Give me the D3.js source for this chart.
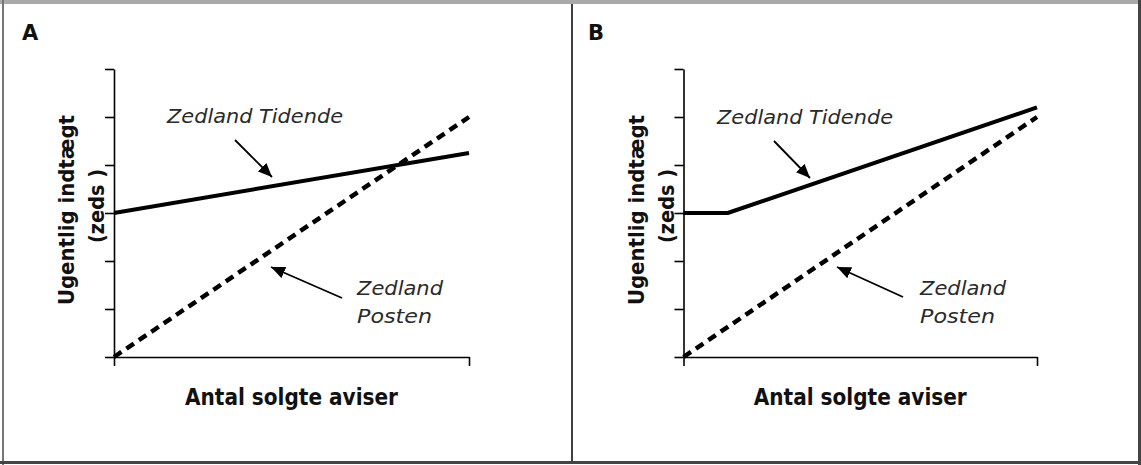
<!DOCTYPE html>
<html>
<head>
<meta charset="utf-8">
<script src="https://cdn.jsdelivr.net/npm/d3@7"></script>
<style>
  body { margin: 0; background: #fff; }
  svg { display: block; }
  .axis path, .axis line { stroke: #000; stroke-width: 1.6; }
  .bold { font-family: "DejaVu Sans", sans-serif; font-weight: bold; fill: #111; }
  .note { font-family: "DejaVu Sans", sans-serif; font-style: italic; fill: #2a2a2a; }
</style>
</head>
<body>
<script>
// y ticks (income, no labels) and x domain (papers sold)
const yTicks = [0, 1, 2, 3, 4, 5, 6];
const xTicks = [0, 10];
const panelNames = ["A", "B"];

// Zedland Tidende / Zedland Posten, panel A and B
const tidendeA = [{x: 0, y: 3}, {x: 10, y: 4.25}];
const postenA = [{x: 0, y: 0}, {x: 10, y: 5}];
const tidendeB = [{x: 0, y: 3}, {x: 1.25, y: 3}, {x: 10, y: 5.2}];
const postenB = [{x: 0, y: 0}, {x: 10, y: 5}];

const W = 1141, H = 465;
const svg = d3.select("body").append("svg").attr("width", W).attr("height", H);

// frame
svg.append("rect").attr("x", 0).attr("y", 0).attr("width", W).attr("height", H).attr("fill", "#fff");
svg.append("line").attr("x1", 0).attr("x2", W).attr("y1", 2).attr("y2", 2).attr("stroke", "#aaa").attr("stroke-width", 4);
svg.append("line").attr("x1", 3).attr("x2", 3).attr("y1", 0).attr("y2", H).attr("stroke", "#777").attr("stroke-width", 2);
svg.append("line").attr("x1", 0).attr("x2", W).attr("y1", 462.5).attr("y2", 462.5).attr("stroke", "#444").attr("stroke-width", 3);
svg.append("line").attr("x1", 1139.5).attr("x2", 1139.5).attr("y1", 0).attr("y2", H).attr("stroke", "#444").attr("stroke-width", 3);
svg.append("line").attr("x1", 572).attr("x2", 572).attr("y1", 4).attr("y2", 461).attr("stroke", "#000").attr("stroke-width", 1.5);

const panels = [
  {name: panelNames[0], left: 114, right: 469, tidende: tidendeA, posten: postenA,
   letter: [22, 40], tid: [167, 123], tidArrow: [[235, 140], [272, 177]],
   pos: [357, 295], posArrow: [[342, 298], [271, 267]]},
  {name: panelNames[1], left: 683.5, right: 1037, tidende: tidendeB, posten: postenB,
   letter: [588, 40], tid: [717, 124], tidArrow: [[774, 141], [810, 178]],
   pos: [920, 295], posArrow: [[903, 297], [837, 267]]}
];

const y = d3.scaleLinear().domain([0, 6]).range([357, 69]);

svg.append("defs").append("marker")
  .attr("id", "head").attr("viewBox", "0 0 14 12").attr("refX", 14).attr("refY", 6)
  .attr("markerWidth", 14).attr("markerHeight", 12).attr("markerUnits", "userSpaceOnUse")
  .attr("orient", "auto")
  .append("path").attr("d", "M0,0L14,6L0,12Z").attr("fill", "#000");

panels.forEach(p => {
  const x = d3.scaleLinear().domain([0, 10]).range([p.left, p.right]);
  const g = svg.append("g");

  g.append("text").attr("class", "bold").attr("x", p.letter[0]).attr("y", p.letter[1])
    .attr("font-family", "Liberation Sans, sans-serif").attr("font-size", 21).text(p.name);

  g.append("g").attr("class", "axis").attr("transform", `translate(${p.left},0)`)
    .call(d3.axisLeft(y).tickValues(yTicks).tickFormat("").tickSize(9).tickSizeOuter(0));
  g.append("g").attr("class", "axis").attr("transform", `translate(0,${y(0)})`)
    .call(d3.axisBottom(x).tickValues(xTicks).tickFormat("").tickSize(9).tickSizeOuter(0));

  const line = d3.line().x(d => x(d.x)).y(d => y(d.y));
  g.append("path").datum(p.posten).attr("d", line).attr("fill", "none")
    .attr("stroke", "#000").attr("stroke-width", 4.5).attr("stroke-dasharray", "9,6");
  g.append("path").datum(p.tidende).attr("d", line).attr("fill", "none")
    .attr("stroke", "#000").attr("stroke-width", 4).attr("stroke-linejoin", "round");

  // axis titles
  g.append("text").attr("class", "bold").attr("font-size", 22)
    .attr("transform", `translate(${p.left - 40},210) rotate(-90)`)
    .attr("text-anchor", "middle").attr("textLength", 190).attr("lengthAdjust", "spacingAndGlyphs")
    .text("Ugentlig indtægt");
  g.append("text").attr("class", "bold").attr("font-size", 22)
    .attr("transform", `translate(${p.left - 10},206) rotate(-90)`)
    .attr("text-anchor", "middle").attr("textLength", 74).attr("lengthAdjust", "spacingAndGlyphs")
    .text("(zeds )");
  g.append("text").attr("class", "bold").attr("font-size", 23)
    .attr("x", (p.left + p.right) / 2 + 0).attr("y", 405)
    .attr("text-anchor", "middle").attr("textLength", 213).attr("lengthAdjust", "spacingAndGlyphs")
    .text("Antal solgte aviser");

  // annotations
  g.append("text").attr("class", "note").attr("font-size", 20)
    .attr("x", p.tid[0]).attr("y", p.tid[1])
    .attr("textLength", 176).attr("lengthAdjust", "spacingAndGlyphs").text("Zedland Tidende");
  g.append("text").attr("class", "note").attr("font-size", 20)
    .attr("x", p.pos[0]).attr("y", p.pos[1])
    .attr("textLength", 86).attr("lengthAdjust", "spacingAndGlyphs").text("Zedland");
  g.append("text").attr("class", "note").attr("font-size", 20)
    .attr("x", p.pos[0]).attr("y", p.pos[1] + 28)
    .attr("textLength", 75).attr("lengthAdjust", "spacingAndGlyphs").text("Posten");

  [p.tidArrow, p.posArrow].forEach(a => {
    g.append("line").attr("x1", a[0][0]).attr("y1", a[0][1]).attr("x2", a[1][0]).attr("y2", a[1][1])
      .attr("stroke", "#000").attr("stroke-width", 1.8).attr("marker-end", "url(#head)");
  });
});
</script>
</body>
</html>
